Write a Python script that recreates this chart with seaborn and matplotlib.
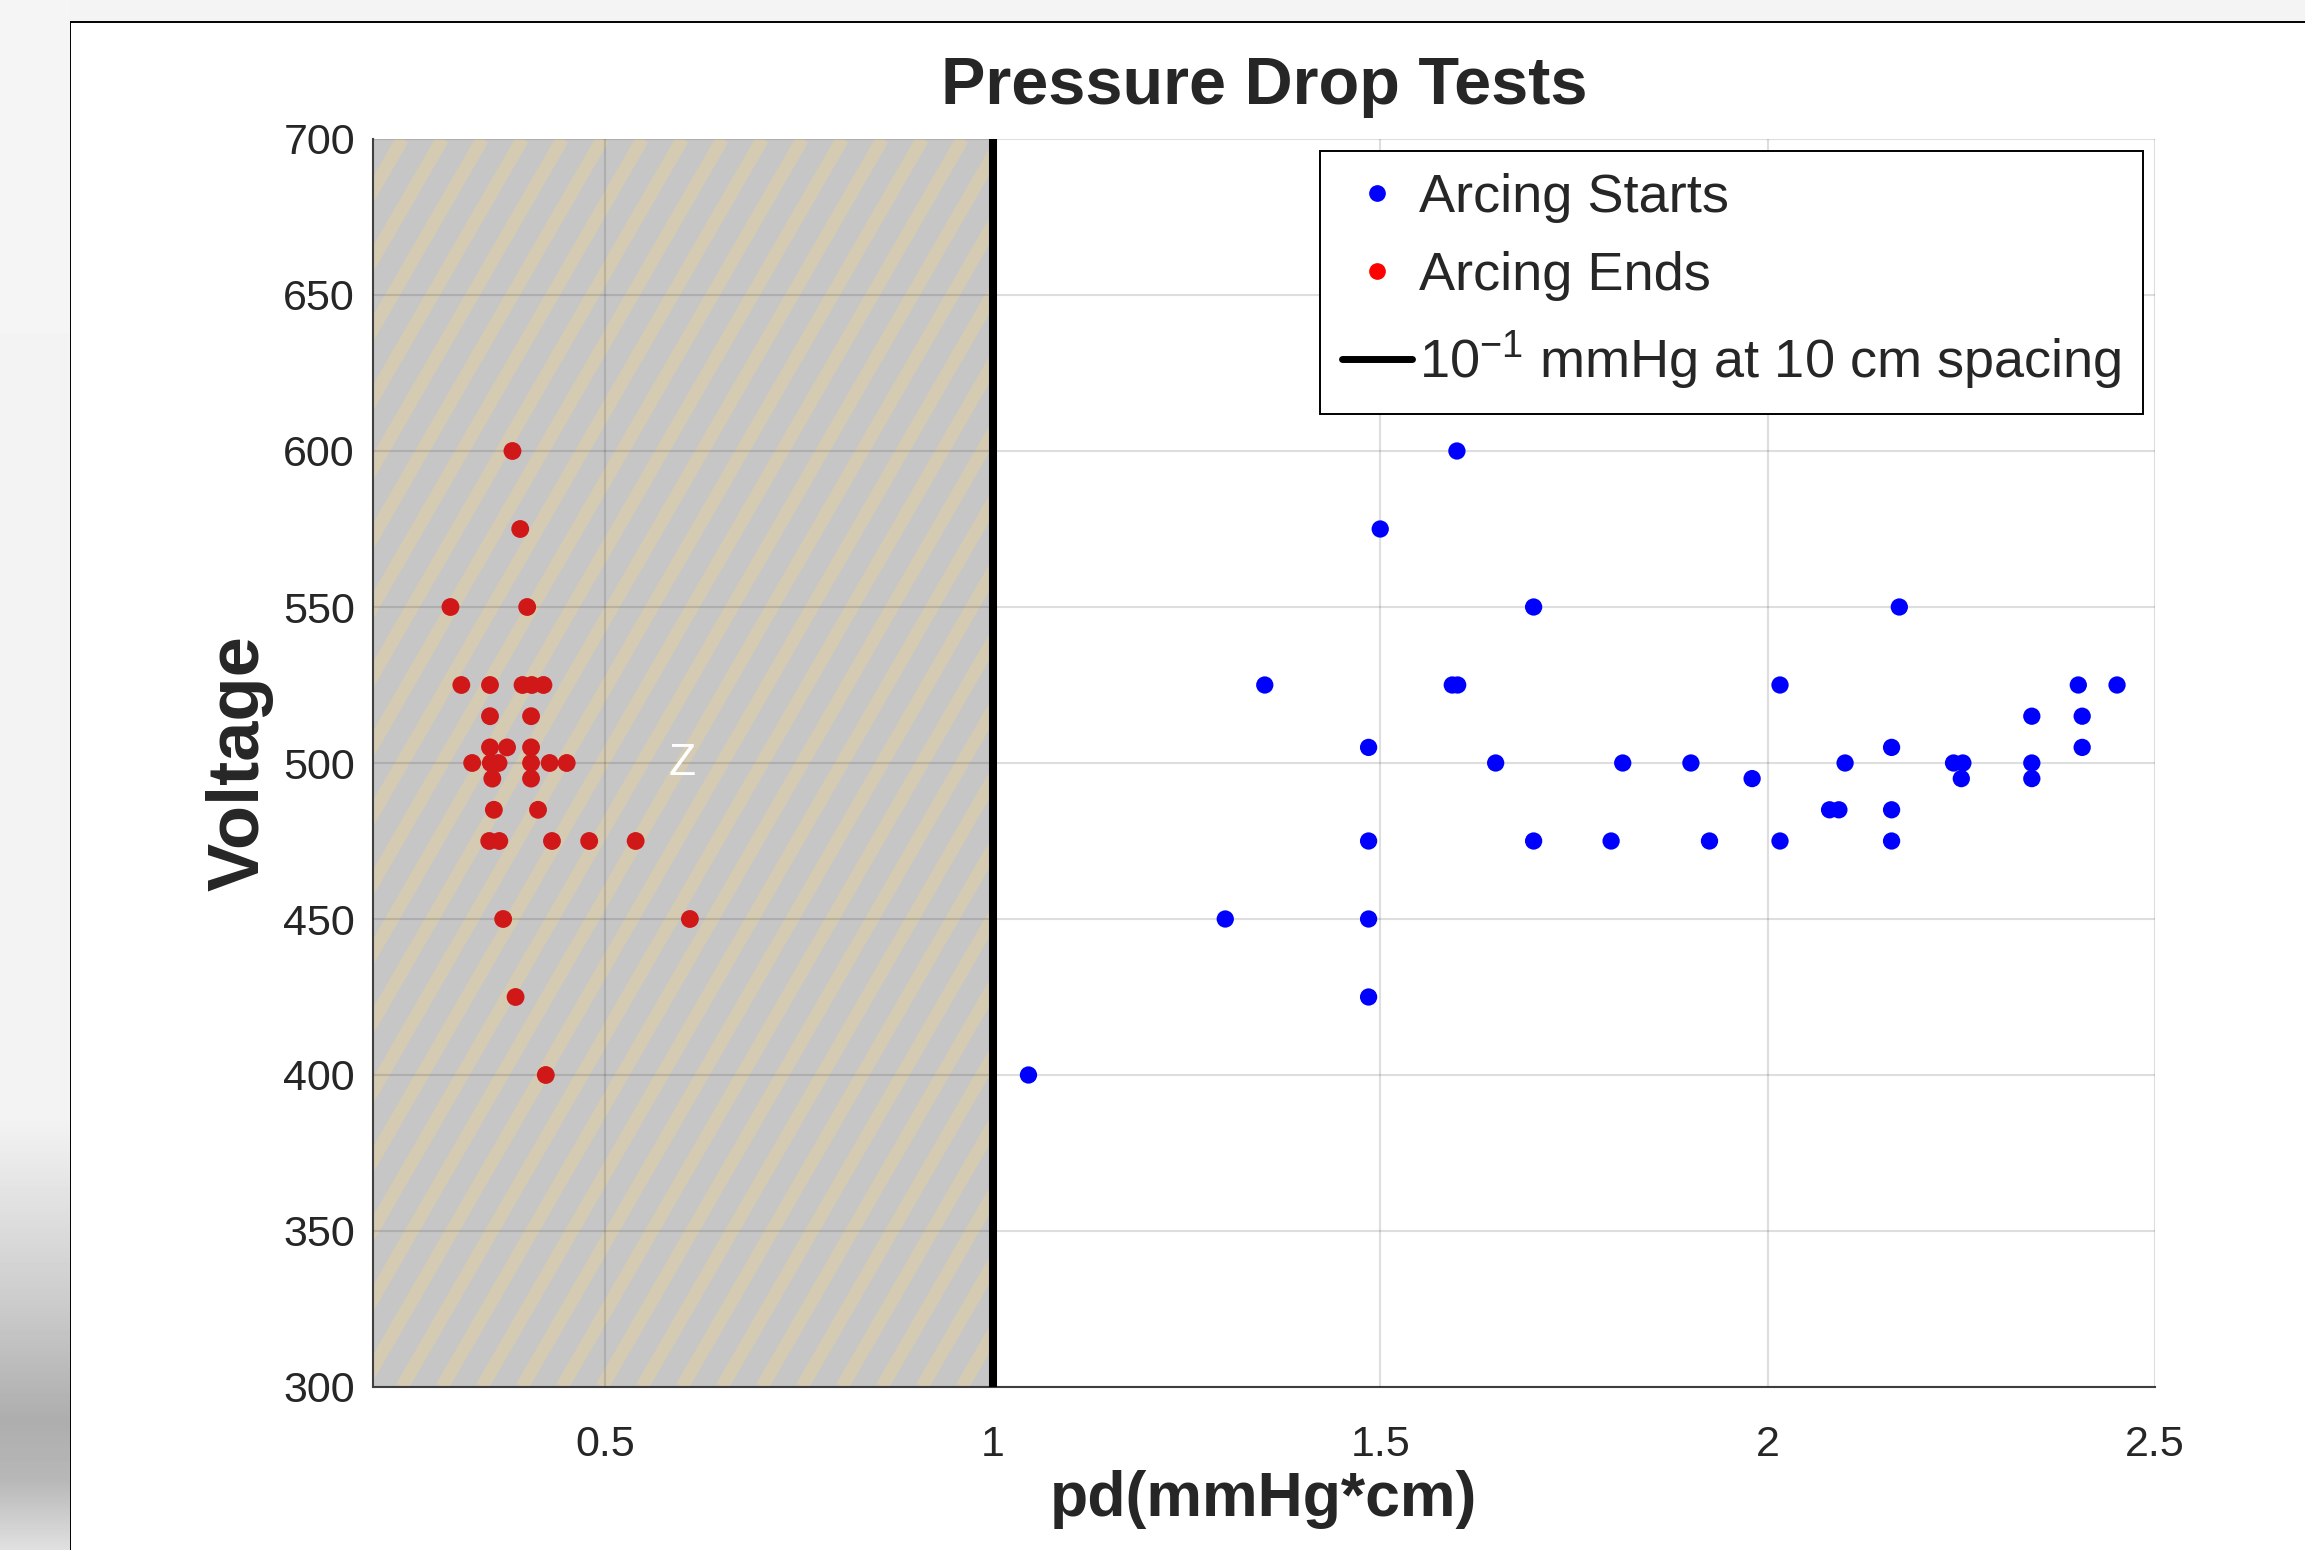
import numpy as np
import pandas as pd
import matplotlib
matplotlib.use("Agg")
import matplotlib.pyplot as plt
import seaborn as sns
from matplotlib.patches import Rectangle
from matplotlib.lines import Line2D
from matplotlib.collections import LineCollection

# Datos
red_pd = [0.380, 0.390, 0.300, 0.399, 0.314, 0.351, 0.393, 0.405, 0.420,
          0.351, 0.404, 0.351, 0.373, 0.404, 0.328, 0.352, 0.362, 0.404,
          0.428, 0.450, 0.354, 0.404, 0.356, 0.413, 0.350, 0.363, 0.431,
          0.479, 0.539, 0.368, 0.609, 0.384, 0.423]
red_v = [600, 575, 550, 550, 525, 525, 525, 525, 525, 515, 515, 505, 505, 505,
         500, 500, 500, 500, 500, 500, 495, 495, 485, 485, 475, 475, 475, 475,
         475, 450, 450, 425, 400]

blue_pd = [1.599, 1.500, 1.698, 1.351, 1.593, 1.600, 1.485, 1.649, 1.813,
           1.485, 1.698, 1.798, 1.300, 1.485, 1.485, 1.046,
           2.170, 2.016, 2.401, 2.451, 2.341, 2.406, 2.160, 2.406, 1.901,
           1.980, 2.100, 2.240, 2.252, 2.250, 2.341, 2.341, 2.080, 2.092,
           2.160, 1.925, 2.016, 2.160]
blue_v = [600, 575, 550, 525, 525, 525, 505, 500, 500, 475, 475, 475, 450, 450,
          425, 400, 550, 525, 525, 525, 515, 515, 505, 505, 500, 495, 500, 500,
          500, 495, 500, 495, 485, 485, 485, 475, 475, 475]

limit_pd = 1.0
shade_start = 0.2
x_ticks = [0.5, 1, 1.5, 2, 2.5]
x_labels = ["0.5", "1", "1.5", "2", "2.5"]
y_ticks = [300, 350, 400, 450, 500, 550, 600, 650, 700]

legend_labels = ["Arcing Starts", "Arcing Ends",
                 r"10$^{\mathregular{-1}}$ mmHg at 10 cm spacing"]

starts = pd.DataFrame({"pd": blue_pd, "V": blue_v})
ends = pd.DataFrame({"pd": red_pd, "V": red_v})

sns.set_style("white")
plt.rcParams["font.family"] = ["Liberation Sans", "DejaVu Sans"]

W, H, DPI = 2305, 1550, 100
fig = plt.figure(figsize=(W / DPI, H / DPI), dpi=DPI, facecolor="#f4f4f4")

# Franja izquierda con degradado (fondo de la captura)
strip = fig.add_axes([0, 0, 70 / W, 1])
rows = np.arange(H)
grad = np.interp(rows, [0, 1120, 1300, 1420, 1480, 1550],
                 [0.96, 0.95, 0.80, 0.68, 0.72, 0.88])
strip.imshow(grad[:, None], cmap="gray", vmin=0, vmax=1, aspect="auto")
strip.set_axis_off()

# Marco blanco de la ventana
fig.patches.append(Rectangle((70 / W, -0.02), 1.2, 1 - 22 / H + 0.02,
                             transform=fig.transFigure, facecolor="white",
                             edgecolor="black", linewidth=1.4, zorder=-1))

ax = fig.add_axes([373 / W, 1 - 1387 / H, 1782 / W, 1248 / H])
ax.set_facecolor("white")

# Zona sombreada (pd < 1) con rayas diagonales
shade = Rectangle((shade_start, 300), limit_pd - shade_start, 400,
                  facecolor="#c6c6c6", edgecolor="none", zorder=0.5)
ax.add_patch(shade)
ax_w_px, ax_h_px = 1782, 1248
dx = ax_h_px / np.tan(np.radians(60)) / ax_w_px
step = 40 / ax_w_px
segs = [[(x0, 0), (x0 + dx, 1)] for x0 in np.arange(-0.5, 0.4, step)]
stripes = LineCollection(segs, colors="#d4cbb2", linewidths=9.5,
                         transform=ax.transAxes, zorder=0.6)
ax.add_collection(stripes)
stripes.set_clip_path(shade)

sns.scatterplot(data=ends, x="pd", y="V", color="#d01818", s=165,
                edgecolor="none", ax=ax, zorder=3, legend=False)
sns.scatterplot(data=starts, x="pd", y="V", color="#0000ff", s=155,
                edgecolor="none", ax=ax, zorder=3, legend=False)

ax.axvline(limit_pd, color="black", linewidth=5.8, zorder=4)

ax.text(0.599, 500, "Z", color="white", fontsize=32, ha="center",
        va="center", zorder=5)

ax.set_xlim(shade_start, 2.5)
ax.set_ylim(300, 700)
ax.set_xticks(x_ticks)
ax.set_xticklabels(x_labels)
ax.set_yticks(y_ticks)

ax.set_axisbelow(False)
ax.grid(True, color="#262626", alpha=0.15, linewidth=1.5)
sns.despine(ax=ax)
for side in ["left", "bottom"]:
    ax.spines[side].set_color("#404040")
    ax.spines[side].set_linewidth(1.5)
ax.tick_params(axis="both", direction="in", length=11, width=1.5,
               colors="#404040", labelcolor="#262626", labelsize=31)
ax.tick_params(axis="x", pad=27)
ax.tick_params(axis="y", pad=13)

ax.set_title("Pressure Drop Tests", fontsize=48, fontweight="bold", pad=25)
ax.set_xlabel("pd(mmHg*cm)", fontsize=45, fontweight="bold", labelpad=4,
              color="#262626")
ax.set_ylabel("Voltage", fontsize=52, fontweight="bold", labelpad=7,
              color="#262626")

handles = [
    Line2D([], [], marker="o", linestyle="none", color="#0000ff", markersize=11),
    Line2D([], [], marker="o", linestyle="none", color="#ff0000", markersize=11),
    Line2D([], [], color="black", linewidth=5),
]
leg = ax.legend(handles, legend_labels, loc="upper right",
                bbox_to_anchor=(0.9933, 0.9904), borderaxespad=0,
                fontsize=39, frameon=True, fancybox=False, framealpha=1,
                edgecolor="black", handlelength=1.3, handletextpad=0.12,
                borderpad=0.4, labelspacing=0.52)
leg.get_frame().set_linewidth(1.4)
leg.set_zorder(6)

fig.savefig("out.png", dpi=DPI, facecolor=fig.get_facecolor())
